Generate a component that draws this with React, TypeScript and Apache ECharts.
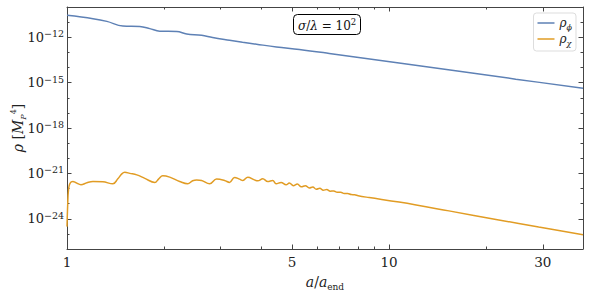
import React, { useEffect, useRef } from "react";
import * as echarts from "echarts";

// a / a_end values and log10(rho) for the inflaton (phi)
const phiA = [1.0, 1.204, 1.33, 1.491, 1.683, 1.807, 1.941, 2.191, 2.353, 2.618, 2.831, 3.196, 3.507, 3.875, 4.469, 5.265, 6.52, 10.74, 24.73, 40.0];
const phiLogRho = [-10.55, -10.77, -10.95, -11.26, -11.29, -11.43, -11.6, -11.62, -11.78, -11.87, -12.02, -12.2, -12.33, -12.46, -12.64, -12.81, -13.07, -13.7, -14.77, -15.37];

// a / a_end values and log10(rho) for chi
const chiA = [1.0, 1.005, 1.0107, 1.0216, 1.0437, 1.0663, 1.105, 1.1532, 1.2036, 1.2925, 1.388, 1.4383, 1.48, 1.512, 1.567, 1.647, 1.744, 1.873, 1.927, 1.983, 2.084, 2.238, 2.37, 2.455, 2.526, 2.618, 2.772, 2.913, 3.084, 3.196, 3.313, 3.433, 3.515, 3.642, 3.82, 3.911, 4.053, 4.2, 4.352, 4.459, 4.621, 4.788, 4.902, 5.044, 5.19, 5.341, 5.495, 5.654, 5.797, 5.943, 6.093, 6.247, 6.405, 6.566, 6.732, 6.902, 7.076, 7.255, 7.438, 7.626, 7.819, 8.017, 8.672, 10.74, 15.34, 21.91, 29.14, 40.0];
const chiLogRho = [-24.52, -23.07, -22.09, -21.66, -21.54, -21.62, -21.75, -21.62, -21.54, -21.56, -21.69, -21.36, -21.03, -20.93, -21.0, -21.1, -21.33, -21.6, -21.36, -21.16, -21.25, -21.54, -21.69, -21.49, -21.43, -21.47, -21.69, -21.38, -21.47, -21.6, -21.27, -21.38, -21.47, -21.25, -21.43, -21.49, -21.36, -21.54, -21.47, -21.69, -21.6, -21.76, -21.64, -21.81, -21.71, -21.89, -21.81, -21.97, -21.9, -22.05, -21.98, -22.11, -22.07, -22.18, -22.16, -22.25, -22.24, -22.33, -22.33, -22.4, -22.41, -22.48, -22.6, -22.9, -23.48, -24.08, -24.55, -25.06];

const xMajorTicks = [1, 5, 10, 30];
const xMinorTicks = [2, 3, 4, 6, 7, 8, 9, 20, 40];
const yMajorTicks = [-24, -21, -18, -15, -12];
const yMinorTicks = [-26, -25, -23, -22, -20, -19, -17, -16, -14, -13, -11, -10];
const X_MIN = 1;
const X_MAX = 40;
const Y_MIN = -26;
const Y_MAX = -10;

const BLUE = "#5E81B5";
const ORANGE = "#E19C24";
const AXIS = "#444";
const FONT = "DejaVu Serif, serif";
const lg = Math.log10;

const txt = (size: number, extra: any = {}) => ({
  fontFamily: FONT,
  fontSize: size,
  fontWeight: "normal",
  color: "#222",
  ...extra,
});

export default function App() {
  const ref = useRef<HTMLDivElement>(null);

  useEffect(() => {
    document.body.style.margin = "0";
    if (!ref.current) return;
    const chart = echarts.init(ref.current, undefined, { renderer: "svg" });

    const xMin = lg(X_MIN);
    const xMax = lg(X_MAX);

    const xAxisBase = (position: string, custom: number[], len: number, showLine: boolean, labels: boolean, extra: any = {}) => ({
      type: "value",
      position,
      min: xMin,
      max: xMax,
      axisLine: { show: showLine, onZero: false, lineStyle: { color: AXIS, width: 1 } },
      axisTick: { show: true, inside: true, length: len, customValues: custom.map(lg), lineStyle: { color: AXIS, width: 1 } },
      axisLabel: labels
        ? {
            show: true,
            customValues: custom.map(lg),
            margin: 6,
            ...txt(13.5),
            formatter: (v: number) => String(Math.round(Math.pow(10, v))),
          }
        : { show: false },
      splitLine: { show: false },
      ...extra,
    });

    const yAxisBase = (position: string, custom: number[], len: number, showLine: boolean, labels: boolean, extra: any = {}) => ({
      type: "value",
      position,
      min: Y_MIN,
      max: Y_MAX,
      axisLine: { show: showLine, onZero: false, lineStyle: { color: AXIS, width: 1 } },
      axisTick: { show: true, inside: true, length: len, customValues: custom, lineStyle: { color: AXIS, width: 1 } },
      axisLabel: labels
        ? {
            show: true,
            customValues: custom,
            margin: 3,
            ...txt(13),
            formatter: (v: number) => `{b|10}{sup|\u2212${Math.abs(Math.round(v))}}`,
            rich: {
              b: txt(13, { lineHeight: 17 }),
              sup: txt(9.5, { verticalAlign: "top" }),
            },
          }
        : { show: false },
      splitLine: { show: false },
      ...extra,
    });

    const option: any = {
      animation: false,
      backgroundColor: "#fff",
      textStyle: { fontFamily: FONT, fontWeight: "normal" },
      grid: { left: 67, right: 8, top: 7, bottom: 47, containLabel: false, outerBoundsMode: "none" },
      title: {
        text: "{i|\u03c3}{n|/}{i|\u03bb}{n| = 10}{sup|2}",
        left: 293,
        top: 14,
        padding: [3, 5, 3, 5],
        borderColor: "#000",
        borderWidth: 1,
        borderRadius: 4,
        backgroundColor: "#fff",
        textStyle: {
          ...txt(12),
          rich: {
            i: txt(12, { fontStyle: "italic", lineHeight: 17, color: "#111" }),
            n: txt(12, { lineHeight: 17, color: "#111" }),
            sup: txt(8.5, { verticalAlign: "top", color: "#111" }),
          },
        },
      },
      legend: {
        orient: "vertical",
        right: 15,
        top: 13,
        icon: "rect",
        itemWidth: 17,
        itemHeight: 1.5,
        itemGap: 2,
        padding: [4, 4, 4, 4],
        borderColor: "#ddd",
        borderWidth: 1,
        borderRadius: 3,
        backgroundColor: "#fff",
        data: ["phi", "chi"],
        formatter: (name: string) => (name === "phi" ? "{i|\u03c1}{sub|\u03d5}" : "{i|\u03c1}{sub|\u03c7}"),
        textStyle: {
          ...txt(12),
          rich: {
            i: txt(12, { fontStyle: "italic", lineHeight: 16 }),
            sub: txt(8, { fontStyle: "italic", verticalAlign: "bottom" }),
          },
        },
      },
      xAxis: [
        xAxisBase("bottom", xMajorTicks, 4.5, true, true, {
          name: "{i|a}{n|/}{i|a}{sub|end}",
          nameLocation: "middle",
          nameGap: 24,
          nameMoveOverlap: false,
          nameTextStyle: {
            ...txt(14),
            rich: {
              i: txt(14, { fontStyle: "italic", lineHeight: 18 }),
              n: txt(14, { lineHeight: 18 }),
              sub: txt(9, { verticalAlign: "bottom" }),
            },
          },
        }),
        xAxisBase("bottom", xMinorTicks, 2.5, false, false),
        xAxisBase("top", xMajorTicks, 4.5, true, false),
        xAxisBase("top", xMinorTicks, 2.5, false, false),
      ],
      yAxis: [
        yAxisBase("left", yMajorTicks, 4.5, true, true, {
          name: "{i|\u03c1} {n|[}{i|M}{sub|P}{sup|4}{n|]}",
          nameLocation: "middle",
          nameGap: 40,
          nameRotate: 90,
          nameMoveOverlap: false,
          nameTextStyle: {
            ...txt(14),
            rich: {
              i: txt(14, { fontStyle: "italic", lineHeight: 18 }),
              n: txt(14, { lineHeight: 18 }),
              sub: txt(8, { fontStyle: "italic", verticalAlign: "bottom" }),
              sup: txt(8, { verticalAlign: "top" }),
            },
          },
        }),
        yAxisBase("left", yMinorTicks, 2.5, false, false),
        yAxisBase("right", yMajorTicks, 4.5, true, false),
        yAxisBase("right", yMinorTicks, 2.5, false, false),
      ],
      series: [
        {
          type: "line",
          name: "phi",
          xAxisIndex: 0,
          yAxisIndex: 0,
          data: phiA.map((a, i) => [lg(a), phiLogRho[i]]),
          showSymbol: false,
          symbol: "none",
          smooth: 0.4,
          lineStyle: { color: BLUE, width: 1.5 },
          itemStyle: { color: BLUE },
        },
        {
          type: "line",
          name: "chi",
          xAxisIndex: 0,
          yAxisIndex: 0,
          data: chiA.map((a, i) => [lg(a), chiLogRho[i]]),
          showSymbol: false,
          symbol: "none",
          smooth: 0.4,
          lineStyle: { color: ORANGE, width: 1.5 },
          itemStyle: { color: ORANGE },
        },
      ],
    };

    chart.setOption(option);
    return () => chart.dispose();
  }, []);

  return <div ref={ref} style={{ width: 591, height: 296 }} />;
}
